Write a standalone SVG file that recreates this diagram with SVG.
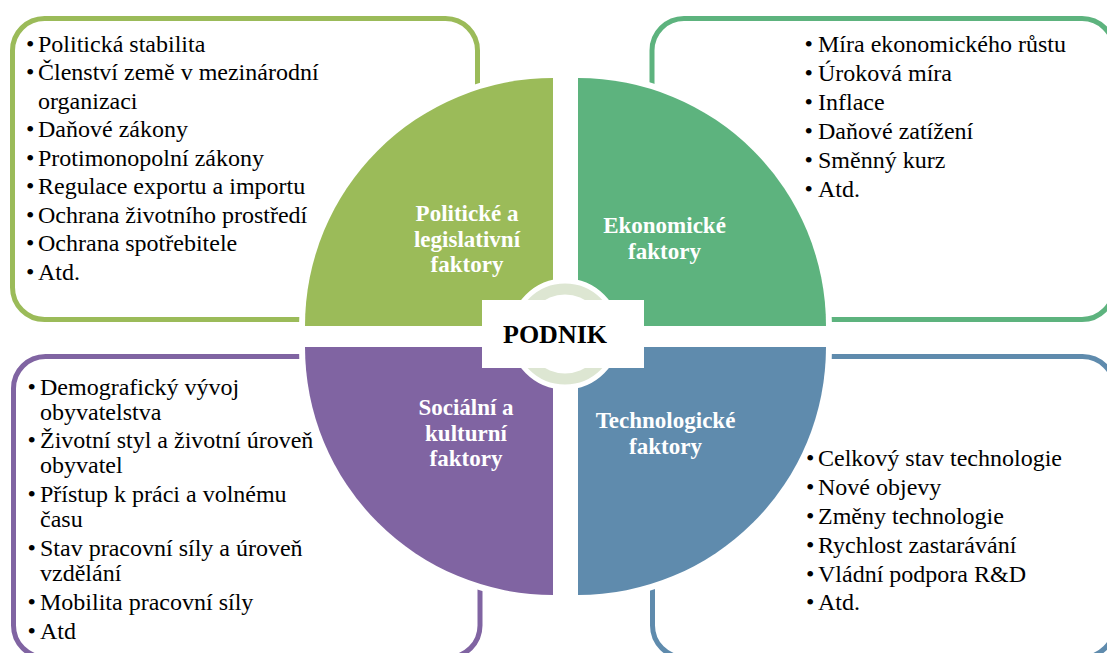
<svg xmlns="http://www.w3.org/2000/svg" width="1107" height="653" viewBox="0 0 1107 653">
  <style>
    .box { fill: #ffffff; stroke-width: 5; }
    .item { font-family: "Liberation Serif", "Times New Roman", serif; font-size: 24px; fill: #000000; }
    .label { font-family: "Liberation Serif", "Times New Roman", serif; font-size: 23px; font-weight: bold; fill: #ffffff; text-anchor: middle; }
    .quad { stroke: #ffffff; stroke-width: 12; paint-order: stroke; stroke-linejoin: miter; }
    .title { font-family: "Liberation Serif", "Times New Roman", serif; font-size: 26px; font-weight: bold; fill: #000000; text-anchor: middle; }
  </style>
  <rect width="1107" height="653" fill="#ffffff"/>

  <!-- factor lists in rounded frames -->
  <g id="list-political">
    <rect class="box" x="12.5" y="18.5" width="465" height="301" rx="32" stroke="#9BBB59"/>
    <text class="item"><tspan x="26" y="51.5">•</tspan><tspan x="38">Politická stabilita</tspan></text>
    <text class="item"><tspan x="26" y="80">•</tspan><tspan x="38">Členství země v mezinárodní</tspan></text>
    <text class="item" x="38" y="108.5">organizaci</text>
    <text class="item"><tspan x="26" y="137">•</tspan><tspan x="38">Daňové zákony</tspan></text>
    <text class="item"><tspan x="26" y="165.5">•</tspan><tspan x="38">Protimonopolní zákony</tspan></text>
    <text class="item"><tspan x="26" y="194">•</tspan><tspan x="38">Regulace exportu a importu</tspan></text>
    <text class="item"><tspan x="26" y="222.5">•</tspan><tspan x="38">Ochrana životního prostředí</tspan></text>
    <text class="item"><tspan x="26" y="251">•</tspan><tspan x="38">Ochrana spotřebitele</tspan></text>
    <text class="item"><tspan x="26" y="279.5">•</tspan><tspan x="38">Atd.</tspan></text>
  </g>

  <g id="list-economic">
    <rect class="box" x="652" y="18.5" width="462" height="301" rx="32" stroke="#5DB37E"/>
    <text class="item"><tspan x="804.5" y="52">•</tspan><tspan x="818">Míra ekonomického růstu</tspan></text>
    <text class="item"><tspan x="804.5" y="81">•</tspan><tspan x="818">Úroková míra</tspan></text>
    <text class="item"><tspan x="804.5" y="110">•</tspan><tspan x="818">Inflace</tspan></text>
    <text class="item"><tspan x="804.5" y="139">•</tspan><tspan x="818">Daňové zatížení</tspan></text>
    <text class="item"><tspan x="804.5" y="168">•</tspan><tspan x="818">Směnný kurz</tspan></text>
    <text class="item"><tspan x="804.5" y="197">•</tspan><tspan x="818">Atd.</tspan></text>
  </g>

  <g id="list-social">
    <rect class="box" x="13.5" y="356.5" width="466.5" height="301" rx="32" stroke="#8064A2"/>
    <text class="item"><tspan x="27.5" y="395">•</tspan><tspan x="40">Demografický vývoj</tspan></text>
    <text class="item" x="40" y="420">obyvatelstva</text>
    <text class="item"><tspan x="27.5" y="448">•</tspan><tspan x="40">Životní styl a životní úroveň</tspan></text>
    <text class="item" x="40" y="473">obyvatel</text>
    <text class="item"><tspan x="27.5" y="502">•</tspan><tspan x="40">Přístup k práci a volnému</tspan></text>
    <text class="item" x="40" y="527">času</text>
    <text class="item"><tspan x="27.5" y="556">•</tspan><tspan x="40">Stav pracovní síly a úroveň</tspan></text>
    <text class="item" x="40" y="581">vzdělání</text>
    <text class="item"><tspan x="27.5" y="610">•</tspan><tspan x="40">Mobilita pracovní síly</tspan></text>
    <text class="item"><tspan x="27.5" y="639">•</tspan><tspan x="40">Atd</tspan></text>
  </g>

  <g id="list-technological">
    <rect class="box" x="652.5" y="356.5" width="462" height="301" rx="32" stroke="#5F8BAD"/>
    <text class="item"><tspan x="806" y="466">•</tspan><tspan x="818">Celkový stav technologie</tspan></text>
    <text class="item"><tspan x="806" y="495">•</tspan><tspan x="818">Nové objevy</tspan></text>
    <text class="item"><tspan x="806" y="524">•</tspan><tspan x="818">Změny technologie</tspan></text>
    <text class="item"><tspan x="806" y="553">•</tspan><tspan x="818">Rychlost zastarávání</tspan></text>
    <text class="item"><tspan x="806" y="582">•</tspan><tspan x="818">Vládní podpora R&amp;D</tspan></text>
    <text class="item"><tspan x="806" y="610">•</tspan><tspan x="818">Atd.</tspan></text>
  </g>

  <!-- four quarter-circle segments -->
  <g id="segment-political">
    <path class="quad" fill="#9BBB59" d="M553,326 L305,326 A248,248 0 0 1 553,78 Z"/>
    <text class="label"><tspan x="467" y="221">Politické a</tspan><tspan x="467" y="246.5">legislativní</tspan><tspan x="467" y="272">faktory</tspan></text>
  </g>
  <g id="segment-economic">
    <path class="quad" fill="#5DB37E" d="M578,326 L578,78 A248,248 0 0 1 826,326 Z"/>
    <text class="label"><tspan x="664.5" y="233">Ekonomické</tspan><tspan x="664.5" y="258.5">faktory</tspan></text>
  </g>
  <g id="segment-social">
    <path class="quad" fill="#8064A2" d="M553,347 L553,595 A248,248 0 0 1 305,347 Z"/>
    <text class="label"><tspan x="466" y="415">Sociální a</tspan><tspan x="466" y="440.5">kulturní</tspan><tspan x="466" y="466">faktory</tspan></text>
  </g>
  <g id="segment-technological">
    <path class="quad" fill="#5F8BAD" d="M578,347 L826,347 A248,248 0 0 1 578,595 Z"/>
    <text class="label"><tspan x="665.5" y="428">Technologické</tspan><tspan x="665.5" y="453.5">faktory</tspan></text>
  </g>

  <!-- hub -->
  <g id="hub">
    <circle cx="565" cy="334" r="53" fill="#DDE6D2" stroke="#ffffff" stroke-width="5"/>
    <circle cx="565" cy="334" r="39.5" fill="#ffffff"/>
    <rect x="482" y="300" width="162" height="68" fill="#ffffff"/>
    <text class="title" x="555" y="343">PODNIK</text>
  </g>
</svg>
